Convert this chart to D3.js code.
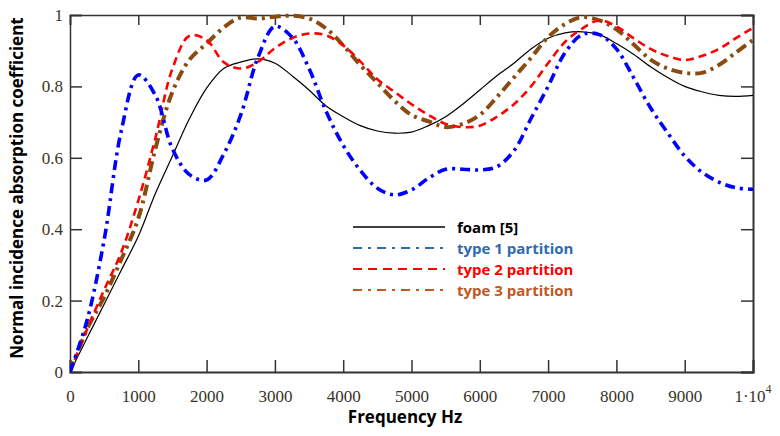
<!DOCTYPE html>
<html><head><meta charset="utf-8">
<script src="https://cdn.jsdelivr.net/npm/d3@7"></script>
<style>
html,body{margin:0;padding:0;background:#fff;}
svg{display:block;}
</style></head>
<body>
<svg id="chart" width="780" height="436"></svg>
<script>
// Frequency grid (Hz)
const freq = [0,250,500,750,1000,1250,1500,1750,2000,2250,2500,2750,3000,3250,3500,3750,4000,4250,4500,4750,5000,5250,5500,5750,6000,6250,6500,6750,7000,7250,7500,7750,8000,8250,8500,8750,9000,9250,9500,9750,10000];
const foam = [0,0.095,0.19,0.285,0.38,0.50,0.605,0.71,0.795,0.85,0.868,0.877,0.865,0.83,0.79,0.745,0.715,0.69,0.675,0.669,0.672,0.69,0.715,0.75,0.79,0.83,0.865,0.905,0.935,0.95,0.953,0.945,0.92,0.89,0.855,0.825,0.80,0.785,0.775,0.772,0.775];
const type1 = [0,0.145,0.37,0.675,0.832,0.775,0.625,0.553,0.538,0.61,0.72,0.88,0.968,0.938,0.85,0.73,0.635,0.565,0.515,0.496,0.51,0.543,0.568,0.568,0.566,0.575,0.62,0.71,0.80,0.895,0.945,0.945,0.905,0.825,0.74,0.67,0.605,0.56,0.532,0.516,0.512];
const type2 = [0,0.12,0.23,0.335,0.48,0.655,0.85,0.942,0.93,0.868,0.85,0.868,0.907,0.935,0.948,0.943,0.915,0.87,0.82,0.785,0.75,0.72,0.695,0.686,0.69,0.715,0.75,0.80,0.865,0.925,0.962,0.985,0.968,0.935,0.905,0.885,0.874,0.885,0.905,0.935,0.964];
const type3 = [0,0.12,0.21,0.315,0.43,0.625,0.785,0.875,0.92,0.965,0.993,0.99,0.995,0.998,0.99,0.962,0.915,0.86,0.81,0.76,0.72,0.702,0.686,0.695,0.72,0.77,0.825,0.88,0.938,0.975,0.994,0.985,0.96,0.918,0.875,0.85,0.838,0.838,0.86,0.895,0.93];
const xTicks = [0,1000,2000,3000,4000,5000,6000,7000,8000,9000,10000];
const yTicks = [0,0.2,0.4,0.6,0.8,1];
const seriesNames = ["foam [5]","type 1 partition","type 2 partition","type 3 partition"];

const svg = d3.select("#chart");
const L = 70, R = 753, T = 15, B = 372;
const x = d3.scaleLinear().domain([0,10000]).range([L,R]);
const y = d3.scaleLinear().domain([0,1]).range([B,T]);
const axisColor = "#333";
const tickFont = "'Liberation Serif','Times New Roman',serif";
const sansBold = "'Open Sans','Liberation Sans',Arial,sans-serif";
const tickColor = "#3a3328";

svg.append("defs").append("clipPath").attr("id","clip")
  .append("rect").attr("x",L).attr("y",T-3).attr("width",R-L).attr("height",B-T+3);

const fmtX = d => d===10000 ? "" : String(d);
svg.append("g").attr("transform",`translate(0,${B})`)
  .call(d3.axisBottom(x).tickValues(xTicks).tickSize(-12).tickPadding(18).tickFormat(fmtX))
  .call(g=>{g.select(".domain").attr("stroke",axisColor).attr("stroke-width",2);
    g.selectAll(".tick line").attr("stroke",axisColor).attr("stroke-width",1.5);
    g.selectAll("text").attr("font-family",tickFont).attr("font-size",17).attr("fill",tickColor).attr("y",30).attr("dy",0);});
svg.append("g").attr("transform",`translate(0,${T})`)
  .call(d3.axisTop(x).tickValues(xTicks).tickSize(-10).tickFormat(""))
  .call(g=>{g.select(".domain").attr("stroke",axisColor).attr("stroke-width",1.5);
    g.selectAll(".tick line").attr("stroke",axisColor).attr("stroke-width",1.5);});
svg.append("g").attr("transform",`translate(${L},0)`)
  .call(d3.axisLeft(y).tickValues(yTicks).tickSize(-12).tickPadding(7).tickFormat(d=>d===0?"0":d===1?"1":d3.format(".1f")(d)))
  .call(g=>{g.select(".domain").attr("stroke",axisColor).attr("stroke-width",1.5);
    g.selectAll(".tick line").attr("stroke",axisColor).attr("stroke-width",1.5);
    g.selectAll("text").attr("font-family",tickFont).attr("font-size",17).attr("fill",tickColor).attr("x",-7);});
svg.append("g").attr("transform",`translate(${R},0)`)
  .call(d3.axisRight(y).tickValues(yTicks).tickSize(-12).tickFormat(""))
  .call(g=>{g.select(".domain").attr("stroke",axisColor).attr("stroke-width",2);
    g.selectAll(".tick line").attr("stroke",axisColor).attr("stroke-width",1.5);});

const lastLbl = svg.append("text").attr("x",x(10000)).attr("y",B+30)
  .attr("text-anchor","middle").attr("font-family",tickFont).attr("font-size",17).attr("fill",tickColor);
lastLbl.append("tspan").text("1\u00B710");
lastLbl.append("tspan").attr("dy",-9).attr("font-size",12).text("4");

const line = vals => d3.line().x((d,i)=>x(freq[i])).y(d=>y(d)).curve(d3.curveCatmullRom.alpha(0.5))(vals);
const plot = svg.append("g").attr("clip-path","url(#clip)");
const styles = [
  {data:foam, color:"#000", w:1.2, dash:null},
  {data:type3, color:"#8a4b10", w:4, dash:"11,5,3,5"},
  {data:type2, color:"#ff0000", w:2.6, dash:"8,5"},
  {data:type1, color:"#0000ff", w:3.6, dash:"10,5,3,5"}
];
styles.forEach(s=>{
  plot.append("path").attr("d",line(s.data)).attr("fill","none")
    .attr("stroke",s.color).attr("stroke-width",s.w)
    .attr("stroke-dasharray",s.dash).attr("stroke-linejoin","round");
});

const legColors = ["#000","#2e6bb0","#ff0000","#c0581f"];
const legDash = [null,"9,6,3,6","9,6","9,6,3,6"];
const legY = [227,248,269,290];
seriesNames.forEach((n,i)=>{
  svg.append("line").attr("x1",353).attr("x2",445).attr("y1",legY[i]).attr("y2",legY[i])
    .attr("stroke",legColors[i]).attr("stroke-width",i===0?1.5:2.2)
    .attr("stroke-dasharray",legDash[i]);
  svg.append("text").attr("x",457).attr("y",legY[i]+6).text(n)
    .attr("font-family",sansBold).attr("font-weight","bold").attr("font-size",15)
    .attr("fill",legColors[i]);
});

svg.append("text").attr("x",405).attr("y",423).attr("text-anchor","middle")
  .attr("font-family",sansBold).attr("font-weight","bold").attr("font-size",17)
  .attr("fill","#000").text("Frequency Hz");
svg.append("text").attr("transform",`translate(23,188) rotate(-90)`).attr("text-anchor","middle")
  .attr("font-family",sansBold).attr("font-weight","bold").attr("font-size",17)
  .attr("fill","#000").text("Normal incidence absorption coefficient");
</script>
</body></html>
